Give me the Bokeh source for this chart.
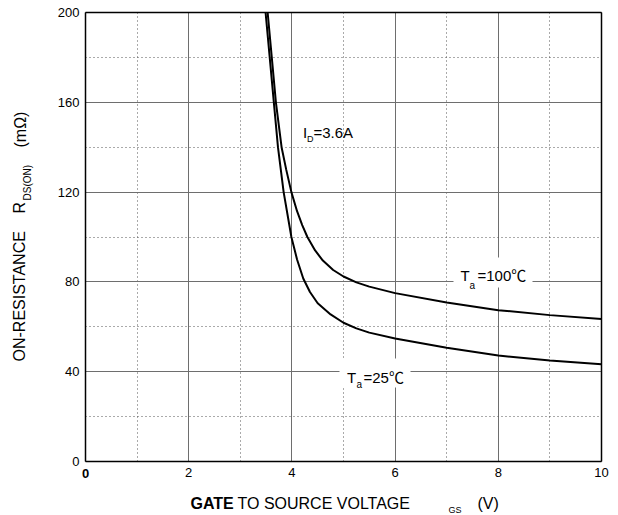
from bokeh.plotting import figure
from bokeh.models import Range1d, FixedTicker, Label, BoxAnnotation, LinearAxis, Grid
from bokeh.embed import file_html
from bokeh.resources import INLINE
import math

# ---- data ----
vgs_25 = [3.49, 3.57, 3.65, 3.73, 3.84, 3.99, 4.1, 4.22, 4.35, 4.5, 4.75, 5.0, 5.25, 5.5, 6.0, 7.0, 8.0, 9.0, 10.0]
r_25 = [200, 180, 160, 140, 120, 100, 90, 81.5, 75.5, 70.5, 65.5, 61.8, 59.3, 57.4, 54.8, 50.7, 47.2, 45.0, 43.3]

vgs_100 = [3.53, 3.61, 3.69, 3.80, 3.89, 3.99, 4.1, 4.2, 4.3, 4.45, 4.6, 4.8, 5.0, 5.25, 5.5, 6.0, 7.0, 8.0, 9.0, 10.0]
r_100 = [200, 180, 160, 140, 130, 120, 111.5, 105.3, 100, 94, 89.5, 85.3, 82.4, 79.8, 77.9, 75.0, 70.8, 67.4, 65.2, 63.5]

x_ticks = [0, 2, 4, 6, 8, 10]
x_minor = [1, 3, 5, 7, 9]
y_ticks = [0, 40, 80, 120, 160, 200]
y_minor = [20, 60, 100, 140, 180]

FONT = "Liberation Sans"
FONT_SYM = "Liberation Sans, Noto Sans CJK SC"

W, H = 618, 515
FL, FT, FR, FB = 85, 12, 601, 461  # chart box edges in page px
X0, X1 = x_ticks[0], x_ticks[-1]
Y0, Y1 = y_ticks[0], y_ticks[-1]
PXU = (FR - FL) / (X1 - X0)
PYU = (FB - FT) / (Y1 - Y0)

p = figure(width=W, height=H, output_backend="svg", toolbar_location=None,
           x_axis_type=None, y_axis_type=None,
           x_range=Range1d(X0 - FL / PXU, X1 + (W - FR) / PXU),
           y_range=Range1d(Y0 - (H - FB) / PYU, Y1 + FT / PYU),
           min_border=0)
p.background_fill_color = "white"
p.border_fill_color = "white"
p.outline_line_color = None

# grids limited to the chart box
GRID_SOLID = "#6e6e6e"
GRID_DOT = "#555555"
p.add_layout(Grid(dimension=0, ticker=FixedTicker(ticks=x_ticks, minor_ticks=x_minor),
                  bounds=(X0, X1), cross_bounds=(Y0, Y1),
                  grid_line_color=GRID_SOLID, grid_line_width=1,
                  minor_grid_line_color=GRID_DOT, minor_grid_line_dash="1 3"))
p.add_layout(Grid(dimension=1, ticker=FixedTicker(ticks=y_ticks, minor_ticks=y_minor),
                  bounds=(Y0, Y1), cross_bounds=(X0, X1),
                  grid_line_color=GRID_SOLID, grid_line_width=1,
                  minor_grid_line_color=GRID_DOT, minor_grid_line_dash="1 3"))


def make_axis(ticks, loc, bounds, labels=True):
    ax = LinearAxis(fixed_location=loc, ticker=FixedTicker(ticks=ticks), bounds=bounds,
                    axis_line_color="black", axis_line_width=1.5,
                    major_tick_in=0, major_tick_out=0, minor_tick_in=0, minor_tick_out=0,
                    major_label_text_font=FONT, major_label_text_font_size="13px",
                    major_label_text_color="black", major_label_standoff=6)
    if not labels:
        ax.major_label_text_font_size = "0px"
        ax.major_label_text_color = None
    return ax


xax = make_axis(x_ticks, Y0, (X0, X1))
xax.major_label_overrides = {0: ""}
p.add_layout(xax, "below")
p.add_layout(make_axis(y_ticks, X0, (Y0, Y1)), "left")
p.add_layout(make_axis([], Y1, (X0, X1), labels=False), "above")
p.add_layout(make_axis([], X1, (Y0, Y1), labels=False), "right")

p.line(vgs_25, r_25, line_color="black", line_width=2)
p.line(vgs_100, r_100, line_color="black", line_width=2)


def dx(px):
    return X0 + (px - FL) / PXU


def dy(py):
    return Y0 + (FB - py) / PYU


def lab(px, py, text, size, bold=False, angle=0.0, align="left", baseline="alphabetic", font=FONT):
    p.add_layout(Label(x=dx(px), y=dy(py), text=text, text_font=font,
                       text_font_size=f"{size}px",
                       text_font_style="bold" if bold else "normal",
                       text_color="black", angle=angle,
                       text_align=align, text_baseline=baseline))


# white boxes behind temperature labels
p.add_layout(BoxAnnotation(left=dx(453), right=dx(532), top=dy(257), bottom=dy(287),
                           fill_color="white", fill_alpha=1, line_color=None))
p.add_layout(BoxAnnotation(left=dx(339), right=dx(410), top=dy(358), bottom=dy(387),
                           fill_color="white", fill_alpha=1, line_color=None))

# in-plot annotations
lab(302.5, 131.7, "I", 15)
lab(306.5, 138, "D", 9)
lab(313, 131.7, "=3.6A", 15)

lab(460, 275, "T", 15)
lab(469, 285, "a", 10)
lab(477, 275, "=100\u2103", 15, font=FONT_SYM)

lab(346.5, 376.7, "T", 15)
lab(356, 384, "a", 10)
lab(363, 376.7, "=25\u2103", 15, font=FONT_SYM)

# bold zero tick label on x axis
lab(FL, 473, "0", 13, bold=True, align="center", baseline="middle")

# x-axis title
lab(190, 503, "GATE", 16, bold=True)
lab(237, 503, "TO SOURCE VOLTAGE", 16)
lab(448, 509, "GS", 9)
lab(477, 503, "(V)", 16)

# y-axis title (rotated)
up = math.pi / 2
lab(19, 361, "ON-RESISTANCE", 16, angle=up)
lab(19, 213, "R", 16, angle=up)
lab(26.5, 200, "DS(ON)", 10, angle=up)
lab(20, 147, "(m\u03a9)", 16, angle=up)

open("out.html", "w").write(file_html(p, INLINE))
